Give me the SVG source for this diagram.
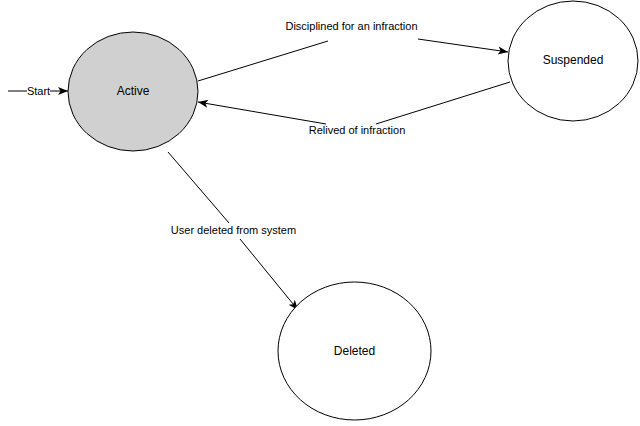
<svg xmlns="http://www.w3.org/2000/svg" width="640" height="426" viewBox="0 0 640 426">
<style>
.node{stroke:#000;stroke-width:1}
.lbl{font-family:"Liberation Sans",Arial,sans-serif;font-size:12px;fill:#000;text-anchor:middle}
.elbl{font-family:"Liberation Sans",Arial,sans-serif;font-size:11px;fill:#000;text-anchor:middle}
.edge{stroke:#000;stroke-width:1;fill:none}
</style>
<defs>
<marker id="arr" viewBox="0 0 10 10" refX="10" refY="5" markerWidth="10" markerHeight="10" markerUnits="userSpaceOnUse" orient="auto">
<path d="M0,1 L10,5 L0,9 L2.5,5 Z" fill="#000"/>
</marker>
</defs>
<rect width="640" height="426" fill="#fff"/>
<g id="connectors">
<line class="edge" x1="8" y1="91" x2="27" y2="91"/>
<line class="edge" x1="50" y1="91" x2="68" y2="91" marker-end="url(#arr)"/>
<text class="elbl" x="38.5" y="95">Start</text>
<line class="edge" x1="198" y1="81" x2="328" y2="41"/>
<line class="edge" x1="418" y1="39" x2="508" y2="52" marker-end="url(#arr)"/>
<text class="elbl" x="351.5" y="30">Disciplined for an infraction</text>
<line class="edge" x1="510" y1="82" x2="376" y2="124"/>
<line class="edge" x1="326" y1="124" x2="198" y2="102" marker-end="url(#arr)"/>
<text class="elbl" x="357" y="134">Relived of infraction</text>
<line class="edge" x1="168" y1="152" x2="229" y2="223"/>
<line class="edge" x1="240" y1="239" x2="298" y2="310" marker-end="url(#arr)"/>
<text class="elbl" x="233.5" y="234">User deleted from system</text>
</g>
<g id="active">
<ellipse class="node" cx="133" cy="91.5" rx="65" ry="59.5" fill="#d0d0d0"/>
<text class="lbl" x="133" y="94.5">Active</text>
</g>
<g id="suspended">
<ellipse class="node" cx="573" cy="61" rx="65" ry="60" fill="#fff"/>
<text class="lbl" x="573" y="64">Suspended</text>
</g>
<g id="deleted">
<ellipse class="node" cx="354.5" cy="351" rx="76.5" ry="69" fill="#fff"/>
<text class="lbl" x="354.5" y="355">Deleted</text>
</g>
</svg>
